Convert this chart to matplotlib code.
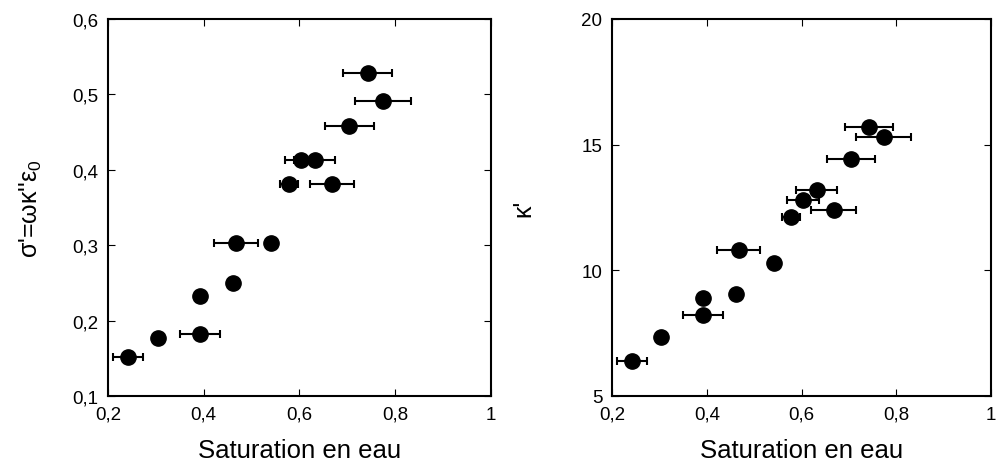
import numpy as np
import matplotlib.pyplot as plt
from matplotlib.ticker import FuncFormatter

plt.rcParams['font.family'] = ['Liberation Sans', 'DejaVu Sans']
plt.rcParams['mathtext.fontset'] = 'custom'
plt.rcParams['mathtext.rm'] = 'Liberation Sans'
plt.rcParams['mathtext.it'] = 'Liberation Sans'

# water saturation and its uncertainty (shared by both panels)
sat = [0.242, 0.304, 0.392, 0.392, 0.462, 0.467, 0.541, 0.578, 0.603, 0.632, 0.668, 0.704, 0.743, 0.774]
sat_err = [0.031, 0.0, 0.042, 0.0, 0.0, 0.046, 0.008, 0.019, 0.034, 0.043, 0.047, 0.051, 0.051, 0.058]

# effective conductivity (left) and real permittivity (right)
sigma = [0.152, 0.177, 0.182, 0.233, 0.250, 0.303, 0.303, 0.381, 0.413, 0.413, 0.381, 0.458, 0.529, 0.491]
kappa = [6.40, 7.34, 8.24, 8.89, 9.06, 10.82, 10.28, 12.11, 12.81, 13.21, 12.41, 14.43, 15.69, 15.32]

comma = FuncFormatter(lambda v, p: ('%g' % v).replace('.', ','))

fig = plt.figure(figsize=(9.96, 4.64), dpi=100)
ax1 = fig.add_axes([0.1084, 0.1444, 0.3845, 0.8125])
ax2 = fig.add_axes([0.6145, 0.1444, 0.3805, 0.8125])

for ax, y in [(ax1, sigma), (ax2, kappa)]:
    ax.errorbar(sat, y, xerr=sat_err, fmt='o', color='black', ms=11,
                elinewidth=1.5, capsize=3, capthick=1.5)
    ax.set_xlim(0.2, 1.0)
    ax.set_xticks([0.2, 0.4, 0.6, 0.8, 1.0])
    ax.xaxis.set_major_formatter(comma)
    ax.yaxis.set_major_formatter(comma)
    ax.tick_params(direction='in', top=True, right=True, labelsize=13.5, length=5, pad=7)
    for s in ax.spines.values():
        s.set_linewidth(1.5)
    ax.set_xlabel('Saturation en eau', fontsize=18.5, labelpad=11)

ax1.set_ylim(0.1, 0.6)
ax1.set_yticks([0.1, 0.2, 0.3, 0.4, 0.5, 0.6])
ax1.set_ylabel("σ'=ωκ''ε$_0$", fontsize=18, labelpad=20)

ax2.set_ylim(5, 20)
ax2.set_yticks([5, 10, 15, 20])
ax2.set_ylabel("κ'", fontsize=18, labelpad=33)

fig.savefig('out.png', dpi=100)
